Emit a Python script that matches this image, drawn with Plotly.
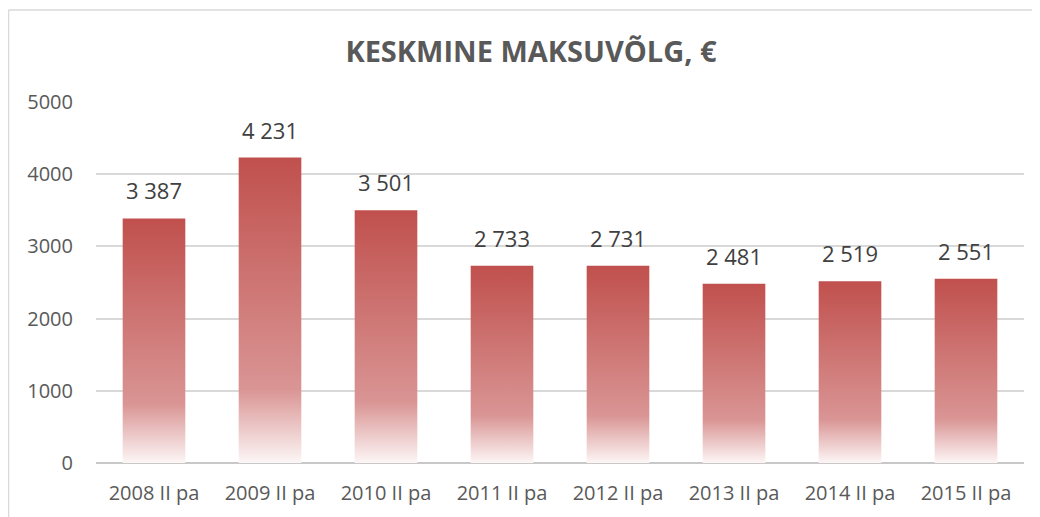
import plotly.graph_objects as go

# andmed
periods = ["2008 II pa", "2009 II pa", "2010 II pa", "2011 II pa",
           "2012 II pa", "2013 II pa", "2014 II pa", "2015 II pa"]
avg_debt = [3387, 4231, 3501, 2733, 2731, 2481, 2519, 2551]

bar_half = 0.27
grad = [[0.0, "#fdf6f6"], [0.24, "#d99594"], [1.0, "#c0504d"]]

# leht lisab body ümber 8px, seega joonis 8px väiksem
W, H = 1032, 509
L, R, T, B = 88, 16, 94, 54
pw, ph = W - L - R, H - T - B

fig = go.Figure()

# tulbad gradiendiga (scatter fill, et saaks fillgradient kasutada)
for i, v in enumerate(avg_debt):
    fig.add_trace(go.Scatter(
        x=[i - bar_half, i - bar_half, i + bar_half, i + bar_half, i - bar_half],
        y=[0, v, v, 0, 0],
        mode="lines",
        line=dict(width=0),
        fill="toself",
        fillgradient=dict(type="vertical", colorscale=grad, start=0, stop=v),
        hoverinfo="skip",
        showlegend=False,
    ))

labels = [f"{v:,}".replace(",", " ") for v in avg_debt]
for i, (v, lab) in enumerate(zip(avg_debt, labels)):
    fig.add_annotation(x=i, y=v, text=lab, showarrow=False,
                       yanchor="bottom", yshift=11,
                       font=dict(family="Open Sans", size=22, color="#404040"))

fig.update_layout(
    width=W, height=H,
    margin=dict(l=L, r=R, t=T, b=B),
    plot_bgcolor="white",
    paper_bgcolor="white",
    title=dict(text="<b>KESKMINE MAKSUVÕLG, €</b>", x=523 / W, xanchor="center",
               y=1 - 44 / H, yanchor="middle",
               font=dict(family="Open Sans", size=29, color="#595959")),
    xaxis=dict(range=[-0.5, len(periods) - 0.5], tickvals=list(range(len(periods))),
               ticktext=periods, showgrid=False, zeroline=False, showline=False,
               tickfont=dict(family="Open Sans", size=20, color="#595959"),
               ticklabelstandoff=16),
    yaxis=dict(range=[0, 5000], dtick=1000, gridcolor="#d9d9d9", gridwidth=1.5,
               zeroline=True, zerolinecolor="#c8c8c8", zerolinewidth=2,
               tickfont=dict(family="Open Sans", size=20, color="#595959"),
               ticklabelstandoff=22),
    shapes=[
        dict(type="line", xref="paper", yref="paper",
             x0=(0.5 - L) / pw, x1=(0.5 - L) / pw, y0=-B / ph, y1=1 + (T - 2) / ph,
             line=dict(color="#d9d9d9", width=1.5)),
        dict(type="line", xref="paper", yref="paper",
             x0=(0.5 - L) / pw, x1=1 + R / pw, y0=1 + (T - 2) / ph, y1=1 + (T - 2) / ph,
             line=dict(color="#d9d9d9", width=1.5)),
    ],
)

fig.write_html("out.html")
